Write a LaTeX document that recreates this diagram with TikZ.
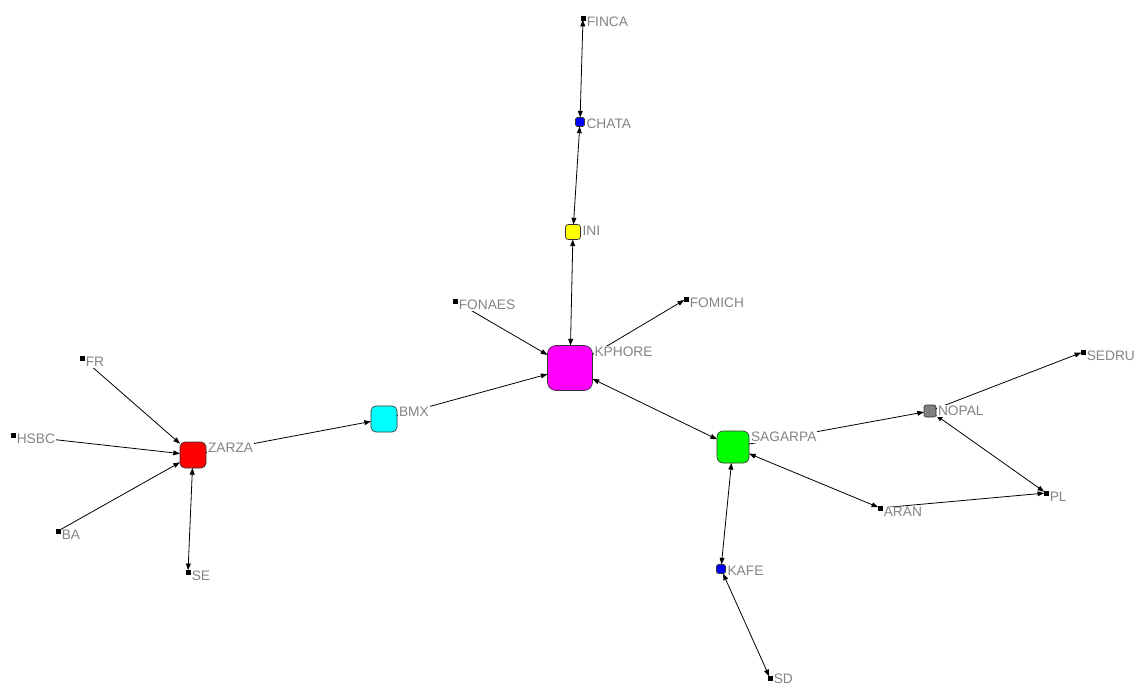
\documentclass[tikz,border=0pt]{standalone}
\usepackage{fontspec}
\setmainfont{Liberation Sans}
\usetikzlibrary{arrows.meta,calc}
\definecolor{cmag}{RGB}{255,0,255}
\definecolor{ccyan}{RGB}{0,255,255}
\definecolor{cgreen}{RGB}{0,255,0}
\definecolor{cred}{RGB}{255,0,0}
\definecolor{cyel}{RGB}{255,255,0}
\definecolor{cblue}{RGB}{0,0,255}
\definecolor{cgray}{RGB}{128,128,128}
\definecolor{labgray}{RGB}{132,132,132}
\begin{document}
\begin{tikzpicture}[x=0.75pt,y=-0.75pt,
  nd/.style={draw=black!80, line width=0.5pt, rounded corners=#1*0.14pt, minimum size=#1*0.75pt, inner sep=0pt, outer sep=0pt},
  tiny/.style={fill=black, draw=black, line width=0.3pt, minimum size=2.6pt, inner sep=0pt, outer sep=0pt},
  lab/.style={anchor=west, text=labgray, font=\fontsize{10.3}{11}\selectfont, fill=white, inner sep=0.6pt},
  one/.style={line width=0.6pt, -{Triangle[length=5pt,width=3.6pt]}},
  bi/.style={line width=0.6pt, {Triangle[length=5pt,width=3.6pt]}-{Triangle[length=5pt,width=3.6pt]}}]
\useasboundingbox (0,0) rectangle (1136,688);
% nodes
\node[nd=45, fill=cmag] (KPHORE) at (570,368) {};
\node[nd=26, fill=cred] (ZARZA) at (193,455) {};
\node[nd=26, fill=ccyan] (BMX) at (384,419) {};
\node[nd=32, fill=cgreen] (SAGARPA) at (733,447) {};
\node[nd=15, fill=cyel] (INI) at (573,232) {};
\node[nd=9, fill=cblue] (CHATA) at (580,122) {};
\node[nd=12, fill=cgray] (NOPAL) at (930,411) {};
\node[nd=9, fill=cblue] (KAFE) at (721,569) {};
\node[tiny] (FINCA) at (583,18) {};
\node[tiny] (FONAES) at (455,301) {};
\node[tiny] (FOMICH) at (686,299) {};
\node[tiny] (SEDRU) at (1083,352) {};
\node[tiny] (PL) at (1046,493) {};
\node[tiny] (ARAN) at (880,508) {};
\node[tiny] (SD) at (770,678) {};
\node[tiny] (FR) at (82,358) {};
\node[tiny] (HSBC) at (13,435) {};
\node[tiny] (BA) at (58,531) {};
\node[tiny] (SE) at (188,572) {};
% edges
\draw[bi] (FINCA) -- (CHATA);
\draw[bi] (CHATA) -- (INI);
\draw[bi] (INI) -- (KPHORE);
\draw[one] (FONAES) -- (KPHORE);
\draw[bi] (KPHORE) -- (FOMICH);
\draw[one] (BMX) -- (KPHORE);
\draw[one] (ZARZA) -- (BMX);
\draw[bi] (KPHORE) -- (SAGARPA);
\draw[one] (SAGARPA) -- (NOPAL);
\draw[bi] (SAGARPA) -- (ARAN);
\draw[one] (ARAN) -- (PL);
\draw[bi] (NOPAL) -- (PL);
\draw[one] (NOPAL) -- (SEDRU);
\draw[bi] (SAGARPA) -- (KAFE);
\draw[bi] (KAFE) -- (SD);
\draw[one] (FR) -- (ZARZA);
\draw[one] (HSBC) -- (ZARZA);
\draw[one] (BA) -- (ZARZA);
\draw[bi] (SE) -- (ZARZA);
% labels
\foreach \n in {KPHORE,ZARZA,BMX,SAGARPA,INI,CHATA,NOPAL,KAFE,FINCA,FONAES,FOMICH,SEDRU,PL,ARAN,FR,HSBC,BA,SE}
  \node[lab] (L\n) at ($(\n.north east)+(1,6)$) {\n};
\node[lab] (LSD) at ($(SD.north east)+(1,3)$) {SD};
\end{tikzpicture}
\end{document}
